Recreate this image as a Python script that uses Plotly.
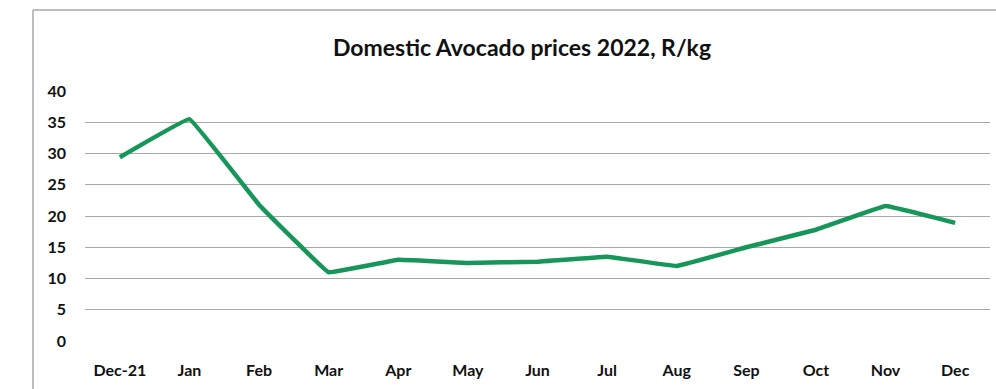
import plotly.graph_objects as go

months = ["Dec-21", "Jan", "Feb", "Mar", "Apr", "May", "Jun", "Jul", "Aug", "Sep", "Oct", "Nov", "Dec"]
prices = [29.4, 35.5, 21.8, 11.0, 13.0, 12.5, 12.7, 13.5, 12.0, 15.0, 17.8, 21.6, 18.9]
y_ticks = [0, 5, 10, 15, 20, 25, 30, 35, 40]

W, H = 996, 389
L, R, T, B = 85, 6, 91, 48
pw, ph = W - L - R, H - T - B

def px_x(px):
    return (px - L) / pw

def px_y(py):
    return (H - B - py) / ph

fig = go.Figure()
fig.add_trace(go.Scatter(
    x=months, y=prices, mode="lines",
    line=dict(color="#17965a", width=4.5, shape="spline", smoothing=0.15),
    hoverinfo="x+y", showlegend=False,
))

fig.update_layout(
    width=W, height=H,
    margin=dict(l=L, r=R, t=T, b=B),
    paper_bgcolor="white", plot_bgcolor="white",
    font=dict(family="Lato, Open Sans, sans-serif", color="#1a1a1a"),
    title=dict(text="<b>Domestic Avocado prices 2022, R/kg</b>",
               x=522 / W, xanchor="center",
               y=1 - 48 / H, yanchor="middle",
               font=dict(size=23, family="Lato, sans-serif", color="#111111")),
    xaxis=dict(type="category", range=[-0.5, len(months) - 0.5], showgrid=False, showline=False, zeroline=False,
               ticks="", tickfont=dict(size=16, family="Lato, sans-serif", color="#111111", weight="bold"),
               ticklabelstandoff=18),
    yaxis=dict(range=[0, 40], tickvals=y_ticks, showgrid=True, gridcolor="#a8a8a8", gridwidth=1,
               zeroline=False, showline=False, ticks="",
               tickfont=dict(size=16, family="Lato, sans-serif", color="#111111", weight="bold"),
               ticklabelstandoff=18),
    shapes=[
        dict(type="line", xref="paper", yref="paper", x0=px_x(33), x1=px_x(33), y0=px_y(10), y1=px_y(400),
             line=dict(color="#bdbdbd", width=2)),
        dict(type="line", xref="paper", yref="paper", x0=px_x(33), x1=px_x(1000), y0=px_y(10), y1=px_y(10),
             line=dict(color="#bdbdbd", width=2)),
    ],
)

fig.write_html("out.html")
